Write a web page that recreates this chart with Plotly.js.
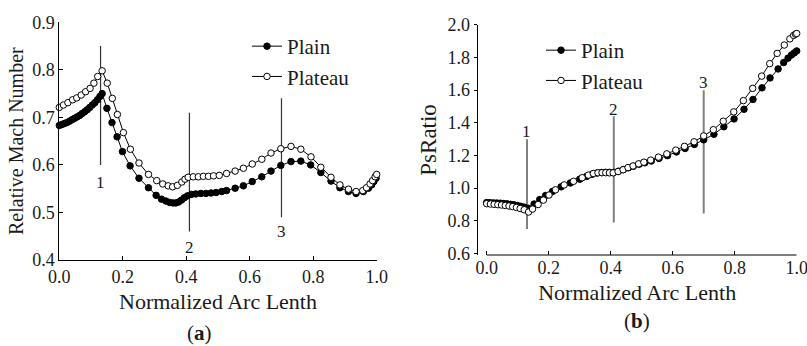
<!DOCTYPE html>
<html>
<head>
<meta charset="utf-8">
<script src="https://cdn.plot.ly/plotly-3.0.1.min.js"></script>
<style>html,body{margin:0;padding:0;background:#fff;}#chart{width:807px;height:346px;}</style>
</head>
<body>
<div id="chart"></div>
<script>
// ---------- Data (a) Relative Mach Number ----------
const plainA_x = [0,0.008,0.016,0.024,0.032,0.040,0.048,0.056,0.064,0.072,0.080,0.088,0.096,0.104,0.112,0.120,0.128,0.135,
  0.150,0.166,0.182,0.199,0.223,0.251,0.281,0.305,0.322,0.336,0.348,0.358,0.367,0.376,0.385,0.394,0.404,0.416,0.430,0.446,0.462,0.478,0.494,0.512,0.527,0.554,0.580,0.608,0.638,0.667,0.698,0.730,0.761,0.792,0.824,0.856,0.884,0.911,0.935,0.958,0.974,0.984,0.991,0.998];
const plainA_y = [0.683,0.685,0.687,0.689,0.692,0.695,0.698,0.701,0.704,0.708,0.712,0.716,0.721,0.726,0.731,0.737,0.744,0.750,
  0.719,0.689,0.659,0.628,0.598,0.572,0.552,0.536,0.528,0.524,0.521,0.520,0.520,0.522,0.526,0.531,0.535,0.538,0.539,0.540,0.540,0.541,0.542,0.544,0.546,0.551,0.556,0.565,0.575,0.587,0.599,0.607,0.608,0.600,0.584,0.566,0.552,0.544,0.540,0.544,0.551,0.558,0.565,0.572];
const plateauA_x = [0,0.013,0.027,0.042,0.055,0.069,0.083,0.097,0.109,0.121,0.135,
  0.151,0.167,0.183,0.202,0.224,0.251,0.281,0.307,0.326,0.343,0.357,0.372,0.386,0.396,0.406,0.422,0.438,0.454,0.470,0.486,0.504,0.527,0.554,0.580,0.608,0.638,0.667,0.698,0.730,0.761,0.793,0.824,0.856,0.884,0.911,0.935,0.956,0.968,0.979,0.987,0.995,1.0];
const plateauA_y = [0.721,0.726,0.731,0.737,0.741,0.747,0.754,0.761,0.772,0.786,0.798,
  0.772,0.740,0.706,0.668,0.633,0.604,0.580,0.567,0.560,0.556,0.554,0.557,0.564,0.570,0.574,0.575,0.575,0.576,0.576,0.577,0.578,0.582,0.587,0.593,0.602,0.612,0.625,0.634,0.639,0.633,0.617,0.595,0.574,0.558,0.549,0.544,0.546,0.552,0.560,0.567,0.575,0.580];

// ---------- Data (b) PsRatio ----------
const plainB_x = [0,0.011,0.022,0.033,0.044,0.055,0.066,0.077,0.088,0.099,0.110,0.121,0.134,
  0.153,0.171,0.190,0.212,0.240,0.270,0.300,0.322,0.340,0.356,0.370,0.383,0.396,0.410,0.425,0.441,0.457,0.473,0.492,0.510,0.531,0.556,0.583,0.612,0.640,0.670,0.700,0.733,0.765,0.798,0.830,0.859,0.888,0.914,0.940,0.958,0.972,0.983,0.992,1.0];
const plainB_y = [0.912,0.911,0.910,0.909,0.908,0.906,0.904,0.901,0.898,0.894,0.889,0.884,0.877,
  0.903,0.930,0.955,0.980,1.008,1.032,1.055,1.072,1.085,1.093,1.096,1.097,1.097,1.097,1.104,1.114,1.125,1.134,1.147,1.155,1.166,1.182,1.199,1.222,1.243,1.268,1.296,1.330,1.376,1.424,1.483,1.543,1.614,1.675,1.730,1.769,1.796,1.815,1.828,1.840];
const plateauB_x = [0,0.012,0.024,0.036,0.048,0.060,0.072,0.084,0.096,0.108,0.121,0.135,
  0.148,0.166,0.183,0.201,0.222,0.250,0.280,0.308,0.328,0.344,0.359,0.372,0.384,0.396,0.408,0.424,0.440,0.456,0.472,0.490,0.507,0.529,0.554,0.581,0.610,0.638,0.669,0.700,0.731,0.763,0.797,0.828,0.858,0.887,0.913,0.937,0.960,0.978,0.990,0.996,1.0];
const plateauB_y = [0.905,0.903,0.901,0.899,0.897,0.894,0.891,0.887,0.882,0.876,0.868,0.854,
  0.872,0.900,0.927,0.958,0.990,1.020,1.042,1.064,1.080,1.090,1.094,1.095,1.095,1.094,1.094,1.102,1.113,1.126,1.136,1.149,1.159,1.172,1.190,1.210,1.233,1.256,1.284,1.320,1.358,1.410,1.467,1.536,1.611,1.686,1.762,1.825,1.876,1.914,1.935,1.943,1.947];

// ---------- Stations ----------
const stationX = [0.13, 0.41, 0.70];
const stationLabels = ['1', '2', '3'];
const stationA_y0 = [0.60, 0.46, 0.49];
const stationA_y1 = [0.85, 0.71, 0.74];
const stationA_labelY = [0.564, 0.427, 0.459];
const stationB_y0 = [0.75, 0.79, 0.845];
const stationB_y1 = [1.30, 1.44, 1.60];
const stationB_labelY = [1.345, 1.482, 1.647];

const seriesNames = ['Plain', 'Plateau'];
const xTickVals = [0, 0.2, 0.4, 0.6, 0.8, 1.0];

// ---------- Styles ----------
const FONT = '"Liberation Serif", "Times New Roman", serif';
const TXT = '#1a1a1a';
const plainStyle = {mode: 'lines+markers', line: {color: '#000', width: 1},
  marker: {symbol: 'circle', size: 6.5, color: '#000', line: {color: '#000', width: 1}}, cliponaxis: false};
const plateauStyle = {mode: 'lines+markers', line: {color: '#000', width: 1},
  marker: {symbol: 'circle', size: 6.5, color: '#fff', line: {color: '#000', width: 1}}, cliponaxis: false};

const traces = [
  Object.assign({x: plainA_x, y: plainA_y, name: seriesNames[0], xaxis: 'x', yaxis: 'y', legend: 'legend'}, plainStyle),
  Object.assign({x: plateauA_x, y: plateauA_y, name: seriesNames[1], xaxis: 'x', yaxis: 'y', legend: 'legend'}, plateauStyle),
  Object.assign({x: plainB_x, y: plainB_y, name: seriesNames[0], xaxis: 'x2', yaxis: 'y2', legend: 'legend2'}, plainStyle),
  Object.assign({x: plateauB_x, y: plateauB_y, name: seriesNames[1], xaxis: 'x2', yaxis: 'y2', legend: 'legend2'}, plateauStyle)
];

const W = 807, H = 346;
const px = v => v / W, py = v => 1 - v / H;

const shapes = [];
const annotations = [];
stationX.forEach((sx, i) => {
  shapes.push({type: 'line', xref: 'x', yref: 'y', x0: sx, x1: sx, y0: stationA_y0[i], y1: stationA_y1[i],
    line: {color: '#333', width: 1.2}, layer: 'below'});
  annotations.push({xref: 'x', yref: 'y', x: sx, y: stationA_labelY[i], text: stationLabels[i], showarrow: false,
    font: {family: FONT, size: 17, color: TXT}});
  shapes.push({type: 'line', xref: 'x2', yref: 'y2', x0: sx, x1: sx, y0: stationB_y0[i], y1: stationB_y1[i],
    line: {color: '#808080', width: 2}, layer: 'below'});
  annotations.push({xref: 'x2', yref: 'y2', x: sx, y: stationB_labelY[i], text: stationLabels[i], showarrow: false,
    font: {family: FONT, size: 17, color: TXT}});
});
// x-axis line of panel (b) starts at 0
shapes.push({type: 'line', xref: 'x2', yref: 'y2 domain', x0: 0, x1: 1, y0: 0, y1: 0, line: {color: '#000', width: 1}});

annotations.push({xref: 'paper', yref: 'paper', x: px(199), y: py(333), xanchor: 'center', yanchor: 'middle',
  text: '(<b>a</b>)', showarrow: false, font: {family: FONT, size: 21, color: TXT}});
annotations.push({xref: 'paper', yref: 'paper', x: px(637), y: py(321), xanchor: 'center', yanchor: 'middle',
  text: '(<b>b</b>)', showarrow: false, font: {family: FONT, size: 21, color: TXT}});

const tickFont = {family: FONT, size: 18, color: TXT};
const titleFont = {family: FONT, size: 22, color: TXT};
const legendFont = {family: FONT, size: 21, color: TXT};

const layout = {
  width: W, height: H,
  margin: {l: 0, r: 0, t: 0, b: 0},
  paper_bgcolor: '#fff', plot_bgcolor: 'rgba(0,0,0,0)',
  font: {family: FONT, color: TXT},
  xaxis: {domain: [px(59.3), px(376.7)], range: [0, 1], tickvals: xTickVals, tickformat: '.1f',
    showgrid: false, zeroline: false, showline: true, linecolor: '#000', linewidth: 1,
    ticks: 'inside', ticklen: 4, tickcolor: '#000', tickfont: tickFont, ticklabeloverflow: 'allow',
    title: {text: 'Normalized Arc Lenth', font: titleFont, standoff: 8}, anchor: 'y'},
  yaxis: {domain: [py(260), py(22.3)], range: [0.4, 0.9], dtick: 0.1, tickformat: '.1f',
    showgrid: false, zeroline: false, showline: true, linecolor: '#000', linewidth: 1,
    ticks: 'inside', ticklen: 4, tickcolor: '#000', tickfont: tickFont, ticklabeloverflow: 'allow',
    title: {text: 'Relative Mach Number', font: {family: FONT, size: 20, color: TXT}, standoff: 3}, anchor: 'x'},
  xaxis2: {domain: [px(477.7), px(796.7)], range: [-0.029, 1], tickvals: xTickVals, tickformat: '.1f',
    showgrid: false, zeroline: false, showline: false,
    ticks: 'inside', ticklen: 4, tickcolor: '#000', tickfont: tickFont, ticklabeloverflow: 'allow',
    title: {text: 'Normalized Arc Lenth', font: titleFont, standoff: 7}, anchor: 'y2'},
  yaxis2: {domain: [py(255), py(24.8)], range: [0.591, 2.0], dtick: 0.2, tickformat: '.1f',
    showgrid: false, zeroline: false, showline: true, linecolor: '#000', linewidth: 1,
    ticks: 'outside', ticklen: 3, tickcolor: '#000', tickfont: tickFont, ticklabeloverflow: 'allow',
    title: {text: 'PsRatio', font: {family: FONT, size: 23, color: TXT}, standoff: 4}, anchor: 'x2'},
  showlegend: true,
  legend: {x: px(247), y: py(26), xanchor: 'left', yanchor: 'top', bgcolor: 'rgba(0,0,0,0)',
    font: legendFont, borderwidth: 0},
  legend2: {x: px(541), y: py(30), xanchor: 'left', yanchor: 'top', bgcolor: 'rgba(0,0,0,0)',
    font: legendFont, borderwidth: 0},
  shapes: shapes,
  annotations: annotations
};

Plotly.newPlot('chart', traces, layout, {displayModeBar: false, staticPlot: true});
</script>
</body>
</html>
